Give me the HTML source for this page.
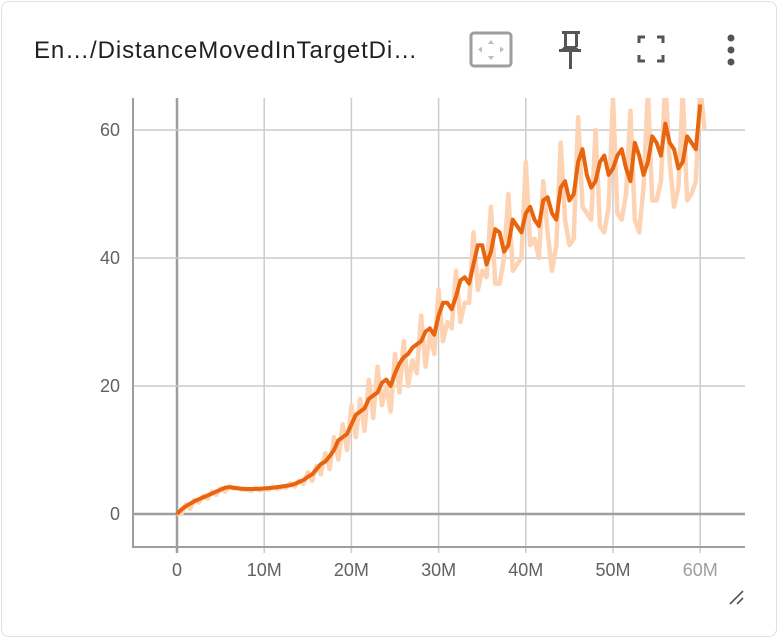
<!DOCTYPE html>
<html><head><meta charset="utf-8"><style>
body{margin:0;background:#fff;font-family:"Liberation Sans",Roboto,sans-serif;}
.card{position:absolute;left:1px;top:1px;width:776px;height:636px;border:1px solid #e0e0e0;border-radius:8px;box-sizing:border-box;background:#fff}
.title{position:absolute;left:34px;top:37px;font-size:24px;color:#212121;letter-spacing:0.9px}
</style></head><body>
<div class="card"></div>
<div class="title">En…/DistanceMovedInTargetDi…</div>
<svg width="780" height="640" style="position:absolute;left:0;top:0" id="svg">
<g>
<rect x="471" y="33" width="40" height="33" rx="3" fill="none" stroke="#9e9e9e" stroke-width="3"/>
<path d="M491 40l-3 4h6z M491 60l-3-4h6z M478 49.5l4-3v6z M504 49.5l-4-3v6z" fill="#bdbdbd"/>
</g>
<g fill="#555">
<rect x="562" y="31" width="18" height="3"/><rect x="564" y="33" width="3" height="14"/><rect x="575" y="33" width="3" height="14"/><path d="M559 51l6-5h10l6 5z"/><rect x="559" y="49" width="22" height="3"/><rect x="569" y="51" width="3" height="18"/>
</g>
<g fill="none" stroke="#555" stroke-width="3">
<path d="M639 43v-6h6M657 37h6v6M663 55v6h-6M645 61h-6v-6"/>
</g>
<g fill="#555">
<circle cx="731" cy="38" r="3.5"/><circle cx="731" cy="50" r="3.5"/><circle cx="731" cy="62" r="3.5"/>
</g>
<g id="plot"></g>
<g stroke="#555" stroke-width="1.6"><path d="M730 604l13-13M737 604l6-6"/></g>
</svg>
<script>
const xs=[0,1,2,3,4,5,6,7,8,9,10,11,12,13,14,15,16,17,18,19,20,21,22,23,24,25,26,27,28,29,30,31,32,33,34,35,36,37,38,39,40,41,42,43,44,45,46,47,48,49,50,51,52,53,54,55,56,57,58,59,60];
const smooth=[0,1.2,2,2.6,3.2,3.8,4.2,4.0,3.9,3.9,4.0,4.1,4.3,4.5,5,5.8,7,8.2,10,12,14,16,18,19,21,22,24.5,26,27,29,31,33,34,37,39,42,41,44,42,45,47,46,49,47,51,49,55,53,52,56,54,57,52,56,55,58,61,57,55,58,64];
const smoothMid=[0.7,1.6,2.3,2.9,3.5,4.1,4.1,3.95,3.9,3.95,4.05,4.2,4.4,4.7,5.3,6.2,7.8,9,11.5,12.5,15.5,16.5,18.5,20.5,20,23.5,25,26.5,28.5,28,33,32,36.5,36,42,39,44.5,41,46,44,48,45,49.5,46,52,50,57,51,55,53,56,54,58,53,59,56,58,54,59,57,65];
const raw=[0,1.5,2.2,2.8,3.5,4,4.3,4.1,3.8,4.1,3.9,4.3,4.2,4.8,5.2,6.5,7.5,9.5,12,14,17,18,21,23,20,25,27,24,31,28,35,30,38,33,44,38,48,36,50,39,55,43,52,38,58,42,62,47,60,44,65,46,63,44,66,49,68,48,66,50,67];
const rawLow=[0,0.8,1.8,2.4,3,3.5,4,3.8,3.6,3.7,3.8,3.9,4.1,4.3,4.7,5.2,6.2,7,8.5,10,12,13,15,17,16,19,20,22,23,25,27,29,30,33,35,37,36,40,38,40,42,40,44,42,46,43,48,46,45,48,47,50,46,51,49,52,55,51,49,52,60];
const yTicks=[0,20,40,60];
const xTicks=[0,10,20,30,40,50,60];
const xTickLabels=["0","10M","20M","30M","40M","50M","60M"];
const L=133,R=745,T=98,B=547;
const X=v=>177+v*8.72;
const Y=v=>514-v*6.4;
const NS="http://www.w3.org/2000/svg";
const g=document.getElementById('plot');
function mk(t,a){const e=document.createElementNS(NS,t);for(const k in a)e.setAttribute(k,a[k]);g.appendChild(e);return e;}
xTicks.forEach((t,i)=>{
 const l=mk('line',{x1:X(t),x2:X(t),y1:T,y2:B+6,stroke:t===0?'#9e9e9e':'#cccccc','stroke-width':t===0?2.5:1.5});
 
 
 const tx=mk('text',{x:X(t),y:576,'text-anchor':'middle','font-size':18,fill:t===60?'#9e9e9e':'#616161'});
 tx.textContent=xTickLabels[i];
 
 
});
yTicks.forEach(t=>{
 const l=mk('line',{x1:L,x2:R,y1:Y(t),y2:Y(t),stroke:t===0?'#9e9e9e':'#cccccc','stroke-width':t===0?2.5:1.5});
 
 
 const tx=mk('text',{x:120,y:Y(t)+6,'text-anchor':'end','font-size':18,fill:'#616161'});
 tx.textContent=String(t);
 
 
});
const ax=mk('path',{d:`M${L} ${T}V${B}H${R}`,fill:'none',stroke:'#9e9e9e','stroke-width':2});


const cp=mk('clipPath',{id:'c'});
const cr=document.createElementNS(NS,'rect');
cr.setAttribute('x',L);cr.setAttribute('y',T);cr.setAttribute('width',R-L);cr.setAttribute('height',B-T);
cp.appendChild(cr);
let rd='';
xs.forEach((x,i)=>{rd+=(i?'L':'M')+X(x)+' '+Y(raw[i])+' L'+X(x+0.5)+' '+Y(rawLow[i]);});
const rl=mk('path',{d:rd,fill:'none',stroke:'#fdd3b3','stroke-width':4.5,'stroke-linejoin':'round','clip-path':'url(#c)'});


let sd='';
xs.forEach((x,i)=>{sd+=(i?'L':'M')+X(x)+' '+Y(smooth[i]);if(i<xs.length-1)sd+='L'+X(x+0.5)+' '+Y(smoothMid[i]);});
const sl=mk('path',{d:sd,fill:'none',stroke:'#e8650f','stroke-width':4,'stroke-linejoin':'round','clip-path':'url(#c)'});


</script>
</body></html>
